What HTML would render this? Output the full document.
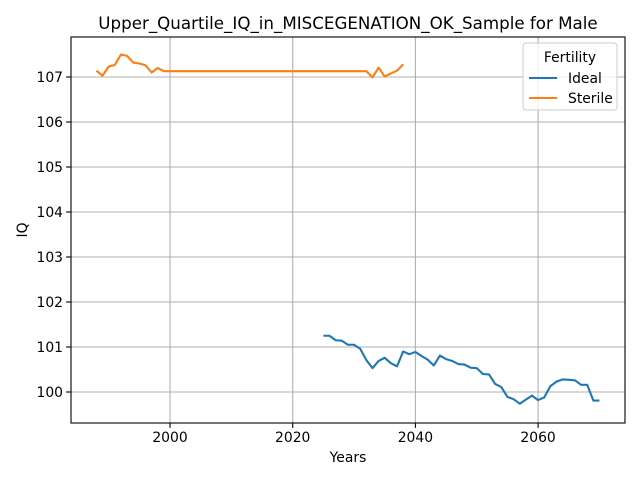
<!DOCTYPE html>
<html><head><meta charset="utf-8"><style>
body{margin:0;background:#fff;font-family:"Liberation Sans","DejaVu Sans",sans-serif}
</style></head><body>
<svg id="chart" width="640" height="480" xmlns="http://www.w3.org/2000/svg" font-family="DejaVu Sans, Liberation Sans, sans-serif"></svg>
<script>
const xTicks=[2000,2020,2040,2060];
const yTicks=[100,101,102,103,104,105,106,107];
const sterileYears=[];for(let y=1988;y<=2038;y++)sterileYears.push(y);
const sterileValues=[107.14,107.03,107.23,107.27,107.50,107.47,107.32,107.30,107.26,107.10,107.20,107.13,
107.13,107.13,107.13,107.13,107.13,107.13,107.13,107.13,107.13,107.13,107.13,107.13,107.13,107.13,107.13,107.13,107.13,107.13,107.13,107.13,107.13,107.13,107.13,107.13,107.13,107.13,107.13,107.13,107.13,107.13,107.13,107.13,107.13,
106.99,107.21,107.01,107.08,107.14,107.28];
const idealYears=[];for(let y=2025;y<=2070;y++)idealYears.push(y);
const idealValues=[101.25,101.25,101.15,101.14,101.05,101.05,100.96,100.71,100.53,100.69,100.76,100.64,100.57,100.90,100.84,100.89,100.80,100.72,100.59,100.81,100.73,100.69,100.62,100.61,100.54,100.53,100.40,100.39,100.18,100.11,99.89,99.84,99.74,99.83,99.92,99.82,99.88,100.13,100.23,100.28,100.27,100.26,100.16,100.16,99.81,99.81];
const L=71,R=625,T=37,B=423;
const X=v=>170+(v-2000)*(292.7-170)/20;
const Y=v=>392-(v-100)*45;
const svg=document.getElementById('chart');
const NS='http://www.w3.org/2000/svg';
function mk(t,a,txt){const e=document.createElementNS(NS,t);for(const k in a)e.setAttribute(k,a[k]);if(txt!=null)e.textContent=txt;svg.appendChild(e);return e;}
let e;
e=mk('rect',{x:L,y:T,width:R-L,height:B-T,fill:'#fff'});


xTicks.forEach(t=>{const x=X(t);
e=mk('line',{x1:x,x2:x,y1:T,y2:B,stroke:'#b0b0b0','stroke-width':1.1});


mk('line',{x1:x,x2:x,y1:B,y2:B+4.9,stroke:'#000','stroke-width':1.1});
e=mk('text',{x:x,y:B+19,'text-anchor':'middle','font-size':13.9},t);

});
yTicks.forEach(t=>{const y=Y(t);
e=mk('line',{x1:L,x2:R,y1:y,y2:y,stroke:'#b0b0b0','stroke-width':1.1});


mk('line',{x1:L-4.9,x2:L,y1:y,y2:y,stroke:'#000','stroke-width':1.1});
e=mk('text',{x:L-8,y:y+5,'text-anchor':'end','font-size':13.9},t);

});
function line(xs,vs,c,n){e=mk('polyline',{points:xs.map((x,i)=>X(x)+','+Y(vs[i])).join(' '),fill:'none',stroke:c,'stroke-width':2.1,'stroke-linejoin':'round'});

}
line(sterileYears,sterileValues,'#ff7f0e','sterile-line');
line(idealYears,idealValues,'#1f77b4','ideal-line');
e=mk('rect',{x:L,y:T,width:R-L,height:B-T,fill:'none',stroke:'#000','stroke-width':1.1});


e=mk('text',{x:348,y:29,'text-anchor':'middle','font-size':16.7},'Upper_Quartile_IQ_in_MISCEGENATION_OK_Sample for Male');


e=mk('text',{x:348,y:462,'text-anchor':'middle','font-size':13.9},'Years');


e=mk('text',{x:27,y:230,'text-anchor':'middle','font-size':13.9,transform:'rotate(-90 27 230)'},'IQ');


e=mk('rect',{x:523,y:43,width:94,height:67,rx:3,fill:'#fff','fill-opacity':0.8,stroke:'#ccc'});


e=mk('text',{x:570,y:62,'text-anchor':'middle','font-size':13.9},'Fertility');


[['Ideal','#1f77b4',78],['Sterile','#ff7f0e',98]].forEach(([n,c,y])=>{
e=mk('line',{x1:529,x2:557,y1:y,y2:y,stroke:c,'stroke-width':2.1});


e=mk('text',{x:568,y:y+5,'font-size':13.9},n);

});
</script>
</body></html>
